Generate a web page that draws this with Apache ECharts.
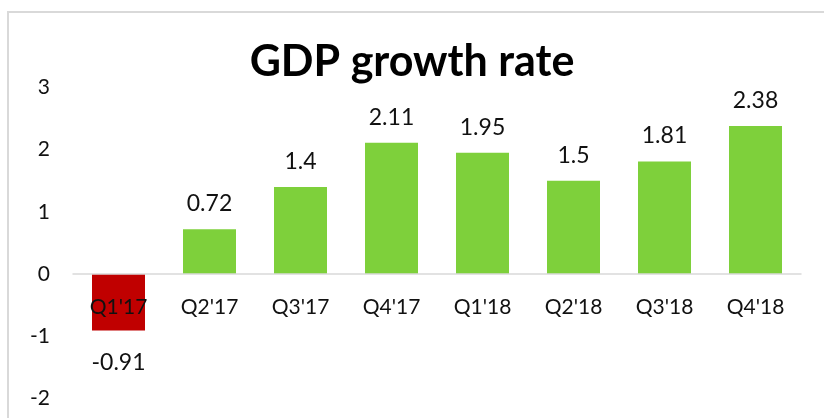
<!DOCTYPE html>
<html><head><meta charset="utf-8">
<script src="https://cdn.jsdelivr.net/npm/echarts@6/dist/echarts.min.js"></script>
<style>html,body{margin:0;padding:0;background:#fff}#c{width:824px;height:418px}</style>
</head><body><div id="c"></div>
<script>
const categories = ["Q1'17","Q2'17","Q3'17","Q4'17","Q1'18","Q2'18","Q3'18","Q4'18"];
const values = [-0.91, 0.72, 1.4, 2.11, 1.95, 1.5, 1.81, 2.38];
const yTicks = [-2, -1, 0, 1, 2, 3];
const GREEN = '#7ED03B', RED = '#C00000';
const font = 'Lato';
const gridH = 311;
const unit = gridH / (yTicks[yTicks.length-1] - yTicks[0]);
const chart = echarts.init(document.getElementById('c'));
chart.setOption({
  animation: false,
  title: {text: 'GDP growth rate', left: 'center', top: 36,
    textStyle: {fontFamily: font, fontWeight: 'bold', fontSize: 43, color: '#000'}},
  graphic: [{type: 'rect', shape: {x: 8, y: 12, width: 1000, height: 1000},
    style: {fill: 'none', stroke: '#d9d9d9', lineWidth: 2}, silent: true}],
  grid: {left: 73, right: 23, top: 87.4, height: gridH, containLabel: false, outerBoundsMode: 'none'},
  xAxis: {type: 'category', data: categories, z: 5, position: 'bottom',
    offset: -unit * (0 - yTicks[0]),
    axisLine: {onZero: false, lineStyle: {color: '#d9d9d9', width: 1.5}},
    axisTick: {show: false},
    axisLabel: {fontFamily: font, fontSize: 21, color: '#111', margin: 23}},
  yAxis: {type: 'value', min: yTicks[0], max: yTicks[yTicks.length-1], interval: 1,
    axisLine: {show: false}, axisTick: {show: false}, splitLine: {show: false},
    axisLabel: {fontFamily: font, fontSize: 21, color: '#111', margin: 23}},
  series: [{type: 'bar', barWidth: 53, z: 2,
    data: values.map(v => v < 0 ? {value: v, itemStyle: {color: RED},
      label: {position: 'bottom', distance: 20}} : {value: v}),
    itemStyle: {color: GREEN},
    label: {show: true, position: 'top', distance: 14, fontFamily: font, fontSize: 23, color: '#111'}}]
});
</script></body></html>
